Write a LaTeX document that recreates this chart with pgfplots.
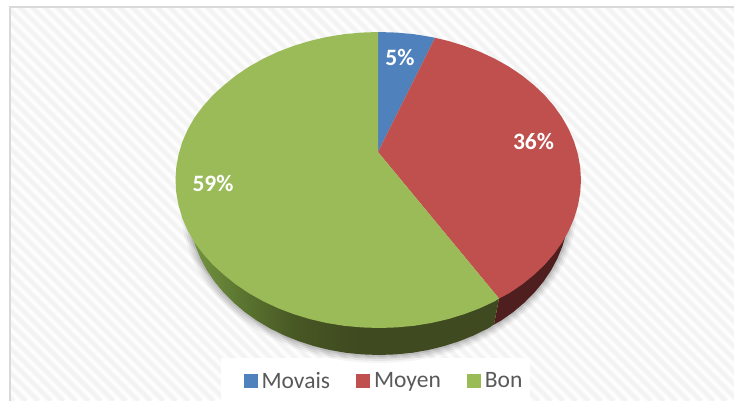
\documentclass[border=0pt]{standalone}
\usepackage{fontspec}
\setmainfont{Carlito}
\usepackage{pgfplots}
\usepackage{pgfplotstable}
\pgfplotsset{compat=1.18}
\definecolor{cblue}{HTML}{4F81BD}
\definecolor{cred}{HTML}{C0504D}
\definecolor{cgreen}{HTML}{9BBB59}
\definecolor{credside}{HTML}{4E1F1E}
\definecolor{cframe}{HTML}{D9D9D9}
\definecolor{cstripe}{HTML}{F3F3F3}
\definecolor{cstripeb}{HTML}{F9F9F9}
\definecolor{ctext}{HTML}{595959}
\pgfdeclarehorizontalshading{rimshade}{100bp}{
  rgb(0bp)=(0.45,0.58,0.25);
  rgb(25bp)=(0.45,0.58,0.25);
  rgb(33bp)=(0.36,0.46,0.19);
  rgb(42bp)=(0.28,0.34,0.14);
  rgb(52bp)=(0.247,0.29,0.125);
  rgb(100bp)=(0.247,0.29,0.125)}

% shares: Movais 5, Moyen 36, Bon 59 -- outlines in picture pixels
\pgfplotstableread{
x y
378 152
378 32
396.6 32.6
414.1 34.2
431.3 37
435 37.8
}\bluewedge
\pgfplotstableread{
x y
378 152
435 37.8
448.1 40.9
464.4 45.9
480 51.8
494.9 58.8
508.8 66.6
521.8 75.3
533.7 84.9
544.5 95.1
553.9 106
562.1 117.5
568.8 129.4
574.1 141.7
577.9 154.3
580.2 167.1
581 180
580.2 192.9
577.9 205.7
574.1 218.3
568.8 230.6
562.1 242.5
553.9 254
544.5 264.9
533.7 275.1
521.8 284.7
508.8 293.4
499 298.5
}\redwedge
\pgfplotstableread{
x y
378 152
499 298.5
494.9 301.2
480 308.2
464.4 314.1
448.1 319.1
431.3 323
414.1 325.8
396.6 327.4
379 328
361.4 327.4
343.9 325.8
326.7 323
309.9 319.1
293.6 314.1
278 308.2
263.1 301.2
249.2 293.4
236.2 284.7
224.3 275.1
213 264.9
203.2 254
194.6 242.5
187.8 230.6
182.4 218.3
178.6 205.7
176.3 192.9
175.5 180
176.3 167.1
178.6 154.3
182.4 141.7
187.8 129.4
194.6 117.5
203.2 106
213 95.1
224.3 84.9
236.2 75.3
249.2 66.6
263.1 58.8
278 51.8
293.6 45.9
309.9 40.9
326.7 37
343.9 34.2
361.4 32.6
378 32
}\greenwedge
\pgfplotstableread{
x y
499 298.5
494 324.5
501.1 320.6
513.4 311.9
524.5 302.5
534.6 292.3
543.5 281.5
551.2 270.1
557.5 258.3
562.5 246
566.1 233.5
}\redside
\pgfplotstableread{
x y
499 298.5
494 324.5
488 328.4
474 335.3
459.3 341.2
444 346.1
428.2 350
412 352.8
395.6 354.4
379 355
362.4 354.4
346 352.8
329.8 350
314 346.1
298.7 341.2
284 335.3
270 328.4
256.9 320.6
244.6 311.9
233.5 302.5
223.4 292.3
214.5 281.5
206.8 270.1
200.5 258.3
195.5 246
191.9 233.5
}\greenside
\pgfplotstableread{
x y
189 208
189.7 220.8
191.9 233.5
195.5 246
200.5 258.3
206.8 270.1
214.5 281.5
223.4 292.3
233.5 302.5
244.6 311.9
256.9 320.6
270 328.4
284 335.3
298.7 341.2
314 346.1
329.8 350
346 352.8
362.4 354.4
379 355
395.6 354.4
412 352.8
428.2 350
444 346.1
459.3 341.2
474 335.3
488 328.4
501.1 320.6
513.4 311.9
524.5 302.5
534.6 292.3
543.5 281.5
551.2 270.1
557.5 258.3
562.5 246
566.1 233.5
568.3 220.8
569 208
}\shadowarc

\begin{document}
\begin{tikzpicture}
\path[use as bounding box] (0,0) rectangle (734pt,401pt);
% hatched chart area, frame on the top and left only
\begin{scope}
\clip (0,0) rectangle (734pt,401pt);
\fill[white] (0,0) rectangle (734pt,401pt);
\foreach \i in {-400,-387.5,...,740} {
  \draw[cstripeb,line width=6.5pt] (\i pt,401pt) -- ++(401pt,-401pt);
  \draw[cstripe,line width=3.5pt] (\i pt,401pt) -- ++(401pt,-401pt);
}
\fill[white] (221pt,0pt) rectangle (530pt,43pt);
\fill[white] (0pt,395pt) rectangle (734pt,401pt);
\fill[white] (0pt,0pt) rectangle (9pt,401pt);
\fill[cframe] (9pt,393pt) rectangle (734pt,395pt);
\fill[cframe] (9pt,0pt) rectangle (11pt,395pt);
\end{scope}
\begin{axis}[
  at={(0pt,0pt)},anchor=south west,
  width=734pt,height=401pt,scale only axis,
  xmin=0,xmax=734,ymin=0,ymax=401,y dir=reverse,
  hide axis,
  legend columns=3,
  legend style={at={(axis description cs:0.5245,0.05)},anchor=center,draw=none,fill=none,
    font=\fontsize{23.5}{26}\selectfont,text=ctext,
    /tikz/every even column/.append style={column sep=22pt},
    nodes={inner xsep=4pt,inner ysep=0pt}},
  legend image code/.code={\fill[#1] (0pt,-7pt) rectangle (14pt,7pt);},
]
% soft shadow under the rim
\addplot[forget plot,draw=black,draw opacity=0.04,line width=16pt,line join=round] table {\shadowarc};
\addplot[forget plot,draw=black,draw opacity=0.06,line width=12pt,line join=round] table {\shadowarc};
\addplot[forget plot,draw=black,draw opacity=0.07,line width=8pt,line join=round] table {\shadowarc};
\addplot[forget plot,draw=black,draw opacity=0.09,line width=4pt,line join=round] table {\shadowarc};
% rim
\addplot[forget plot,draw=none,fill=credside] table {\redside} -- cycle;
\addplot[forget plot,draw=none,shading=rimshade] table {\greenside} -- cycle;
% top face
\addplot[draw=none,fill=cblue] table {\bluewedge} -- cycle;
\addplot[draw=none,fill=cred] table {\redwedge} -- cycle;
\addplot[draw=none,fill=cgreen] table {\greenwedge} -- cycle;
\legend{Movais,Moyen,Bon}
\node[text=white,font=\fontsize{23.5}{26}\selectfont\bfseries] at (axis cs:400,57) {5\%};
\node[text=white,font=\fontsize{23.5}{26}\selectfont\bfseries] at (axis cs:533.5,141) {36\%};
\node[text=white,font=\fontsize{23.5}{26}\selectfont\bfseries] at (axis cs:213,183.5) {59\%};
\end{axis}
\end{tikzpicture}
\end{document}
